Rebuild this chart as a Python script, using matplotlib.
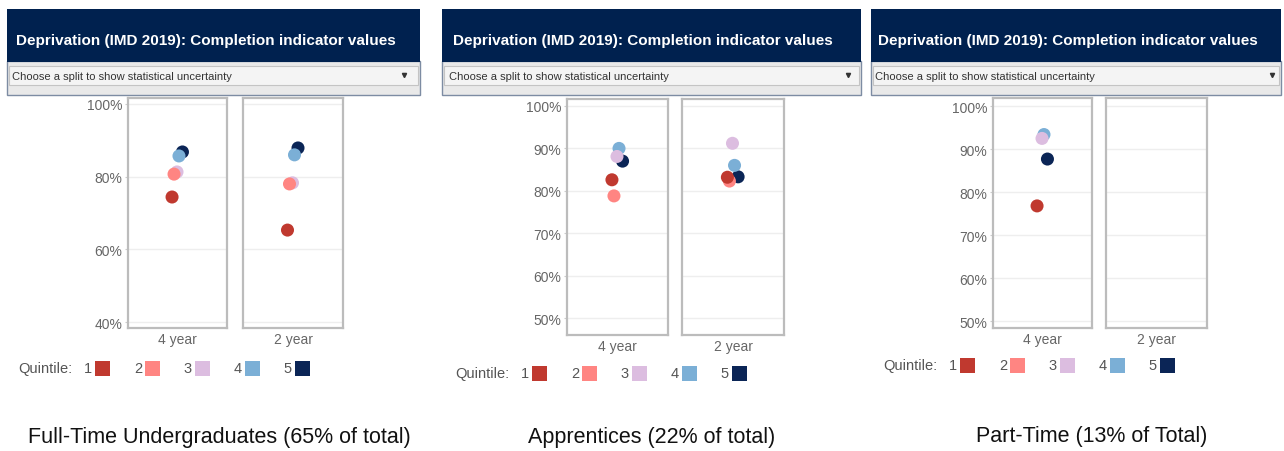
import numpy as np
import matplotlib
matplotlib.use("Agg")
import matplotlib.pyplot as plt
from matplotlib.patches import Rectangle

plt.rcParams['font.family'] = ['Liberation Sans', 'DejaVu Sans']

# data (completion %, by deprivation quintile 1..5)
quintiles = ['1', '2', '3', '4', '5']
q_colors = ['#c0392f', '#ff8582', '#dcbde0', '#7bafd6', '#0b2556']
q_jitter = [-0.11, -0.07, -0.01, 0.03, 0.10]   # small horizontal spread in each box
splits = ['4 year', '2 year']

ft_4yr = [74.4, 80.7, 81.3, 85.7, 86.8]
ft_2yr = [65.3, 78.0, 78.3, 86.0, 87.9]
ap_4yr = [82.6, 78.8, 88.1, 90.0, 87.0]
ap_2yr = [83.2, 82.3, 91.2, 86.0, 83.3]
pt_4yr = [76.8, np.nan, 92.5, 93.4, 87.7]
pt_2yr = [np.nan, np.nan, np.nan, np.nan, np.nan]

ft_ticks = [40, 60, 80, 100]
ap_ticks = [50, 60, 70, 80, 90, 100]
pt_ticks = [50, 60, 70, 80, 90, 100]

header = 'Deprivation (IMD 2019): Completion indicator values'
dropdown = 'Choose a split to show statistical uncertainty'
captions = ['Full-Time Undergraduates (65% of total)',
            'Apprentices (22% of total)',
            'Part-Time (13% of Total)']

W, H = 1284, 452
fig = plt.figure(figsize=(W / 100, H / 100), dpi=100)

# background layer in pixel coordinates
bg = fig.add_axes([0, 0, 1, 1], zorder=0)
bg.set_xlim(0, W)
bg.set_ylim(H, 0)
bg.axis('off')


def px_axes(x0, y0, x1, y1):
    return fig.add_axes([x0 / W, 1 - y1 / H, (x1 - x0) / W, (y1 - y0) / H], zorder=2)


# panel layout: header box, text starts, boxes, ylims, legend and caption spots
panels = [
    dict(hx=(7, 420), tx=16, dx=12, arrow=404,
         boxes=[(128, 227), (243, 343)], ybox=(99, 329), ylim=(38.35, 101.65),
         ticks=ft_ticks, data=[ft_4yr, ft_2yr], leg=(18, 369), cap=(219, 438)),
    dict(hx=(442, 861), tx=453, dx=449, arrow=848,
         boxes=[(567, 668), (682, 784)], ybox=(100, 336), ylim=(46.0, 101.65),
         ticks=ap_ticks, data=[ap_4yr, ap_2yr], leg=(455, 374), cap=(652, 438)),
    dict(hx=(871, 1281), tx=878, dx=875, arrow=1272,
         boxes=[(993, 1092), (1106, 1207)], ybox=(99, 329), ylim=(48.4, 101.9),
         ticks=pt_ticks, data=[pt_4yr, pt_2yr], leg=(883, 366), cap=(1092, 437)),
]

for p in panels:
    x0, x1 = p['hx']
    # header bar + dropdown strip
    bg.add_patch(Rectangle((x0, 62), x1 - x0, 34, facecolor='#e9e9e9',
                           edgecolor='#7d8ca3', lw=1))
    bg.add_patch(Rectangle((x0, 10), x1 - x0, 53, facecolor='#00214f', edgecolor='none'))
    bg.add_patch(Rectangle((x0 + 2, 67), x1 - x0 - 4, 19, facecolor='#f4f4f4',
                           edgecolor='#c4c4c4', lw=0.8))
    bg.text(p['tx'], 41, header, color='white', fontsize=11, fontweight='bold',
            va='center', ha='left')
    bg.text(p['dx'], 76.5, dropdown, color='#333333', fontsize=8, va='center', ha='left')
    bg.plot(p['arrow'], 76, marker='v', ms=3, color='#333333')

    # the two split boxes
    for k, ((bx0, bx1), vals) in enumerate(zip(p['boxes'], p['data'])):
        ax = px_axes(bx0, p['ybox'][0], bx1, p['ybox'][1])
        ax.set_xlim(-1, 1)
        ax.set_ylim(*p['ylim'])
        for i in reversed(range(len(quintiles))):
            ax.scatter(q_jitter[i], vals[i], s=88, color=q_colors[i],
                       edgecolors='none', zorder=3)
        ax.set_yticks(p['ticks'])
        ax.yaxis.grid(True, color='#eeeeee', lw=1)
        ax.set_axisbelow(True)
        ax.set_xticks([0])
        ax.set_xticklabels([splits[k]])
        ax.tick_params(axis='x', length=0, pad=3, labelsize=10, labelcolor='#666666')
        if k == 0:
            ax.set_yticklabels([f'{t}%' for t in p['ticks']])
            ax.tick_params(axis='y', length=2, width=0.8, color='#cccccc', pad=2,
                           labelsize=10, labelcolor='#666666')
        else:
            ax.tick_params(axis='y', length=0, labelleft=False)
        for s in ax.spines.values():
            s.set_color('#bcbcbc')
            s.set_linewidth(1.6)

    # legend
    lx, ly = p['leg']
    bg.text(lx, ly, 'Quintile:', fontsize=10.5, color='#555555', va='center', ha='left')
    for i, (q, c) in enumerate(zip(quintiles, q_colors)):
        sx = lx + 77 + 50 * i
        bg.text(sx - 3, ly, q, fontsize=10.5, color='#555555', va='center', ha='right')
        bg.add_patch(Rectangle((sx, ly - 7.5), 15, 15, facecolor=c, edgecolor='none'))

# captions
for p, cap in zip(panels, captions):
    bg.text(p['cap'][0], p['cap'][1], cap, fontsize=15.5, color='#111111',
            ha='center', va='center')

fig.savefig('out.png', dpi=100)
